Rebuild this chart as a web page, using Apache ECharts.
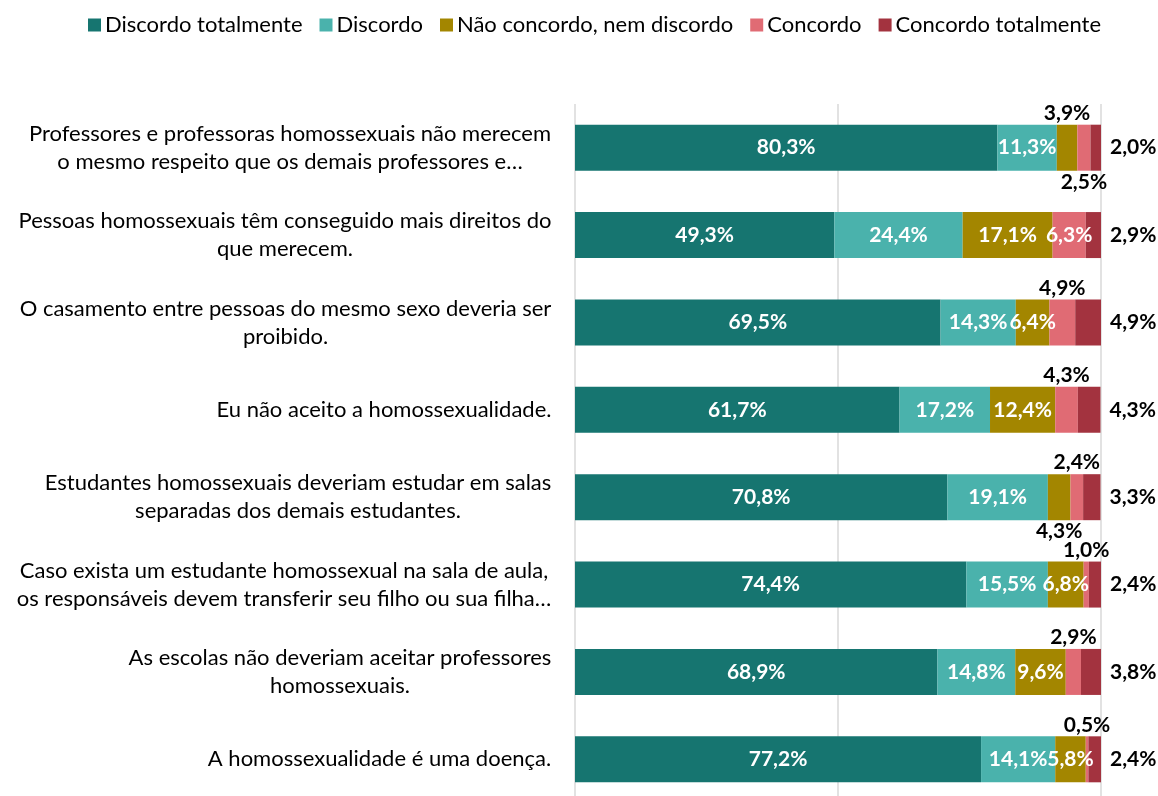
<!DOCTYPE html>
<html>
<head>
<meta charset="utf-8">
<script src="https://cdn.jsdelivr.net/npm/echarts@6/dist/echarts.min.js"></script>
<style>html,body{margin:0;padding:0;background:#fff;overflow:hidden}#c{width:1158px;height:812px}</style>
</head>
<body>
<div id="c"></div>
<script>
const categories = [
  "Professores e professoras homossexuais não merecem\no mesmo respeito que os demais professores e…",
  "Pessoas homossexuais têm conseguido mais direitos do\nque merecem.",
  "O casamento entre pessoas do mesmo sexo deveria ser\nproibido.",
  "Eu não aceito a homossexualidade.",
  "Estudantes homossexuais deveriam estudar em salas\nseparadas dos demais estudantes.",
  "Caso exista um estudante homossexual na sala de aula,\nos responsáveis devem transferir seu filho ou sua filha…",
  "As escolas não deveriam aceitar professores\nhomossexuais.",
  "A homossexualidade é uma doença."
];
const seriesNames = ["Discordo totalmente", "Discordo", "Não concordo, nem discordo", "Concordo", "Concordo totalmente"];
const discordoTotalmente = [80.3, 49.3, 69.5, 61.7, 70.8, 74.4, 68.9, 77.2];
const discordo = [11.3, 24.4, 14.3, 17.2, 19.1, 15.5, 14.8, 14.1];
const neutro = [3.9, 17.1, 6.4, 12.4, 4.3, 6.8, 9.6, 5.8];
const concordo = [2.5, 6.3, 4.9, 4.3, 2.4, 1.0, 2.9, 0.5];
const concordoTotalmente = [2.0, 2.9, 4.9, 4.3, 3.3, 2.4, 3.8, 2.4];

const colors = ["#167570", "#4AB2AC", "#A38600", "#E06B74", "#A3333F"];
// label placement per series per row: in / top / bottom / right
const placement = [
  ["in","in","in","in","in","in","in","in"],
  ["in","in","in","in","in","in","in","in"],
  ["top","in","in","in","bottom","in","in","in"],
  ["bottom","in","top","top","top","top","top","top"],
  ["right","right","right","right","right","right","right","right"]
];
const allValues = [discordoTotalmente, discordo, neutro, concordo, concordoTotalmente];
const FONT = "Lato";
const CAT_SIZE = 22;
function fmt(v){ return v.toFixed(1).replace('.', ',') + '%'; }

// measure category lines to center them within their block
const ctx = document.createElement('canvas').getContext('2d');
ctx.font = CAT_SIZE + 'px ' + FONT;
const rich = {};
categories.forEach((c, i) => {
  const w = Math.max(...c.split('\n').map(l => ctx.measureText(l).width));
  rich['c' + i] = { width: Math.ceil(w) + 1, align: 'center', fontFamily: FONT, fontSize: CAT_SIZE, lineHeight: 28, color: '#000' };
});

const series = seriesNames.map((name, si) => ({
  name: name,
  type: 'bar',
  stack: 'total',
  barWidth: 46,
  itemStyle: { color: colors[si] },
  data: allValues[si].map((v, ri) => {
    const p = placement[si][ri];
    const lab = { show: true, fontFamily: FONT, fontWeight: 'bold', fontSize: 21,
                  formatter: () => fmt(v) };
    if (p === 'in') { lab.position = 'inside'; lab.color = '#fff'; }
    else if (p === 'top') { lab.position = 'top'; lab.color = '#000'; lab.distance = 1; }
    else if (p === 'bottom') { lab.position = 'bottom'; lab.color = '#000'; lab.distance = 1; }
    else { lab.position = 'right'; lab.color = '#000'; lab.distance = 9; }
    return { value: v, label: lab };
  })
}));

const chart = echarts.init(document.getElementById('c'), null, { renderer: 'canvas' });
chart.setOption({
  animation: false,
  color: colors,
  textStyle: { fontFamily: FONT },
  legend: {
    top: 9, left: 83,
    itemWidth: 13, itemHeight: 13, itemGap: 17,
    icon: 'rect',
    textStyle: { fontFamily: FONT, fontSize: 22, color: '#000', padding: [0,0,0,-1] },
    data: seriesNames
  },
  grid: { left: 575, right: 57, top: 104, height: 699, containLabel: false },
  xAxis: {
    type: 'value', min: 0, max: 100, interval: 50,
    axisLabel: { show: false }, axisLine: { show: false }, axisTick: { show: false },
    splitLine: { lineStyle: { color: '#d9d9d9', width: 1.5 } }
  },
  yAxis: {
    type: 'category', inverse: true, data: categories,
    axisLine: { show: false }, axisTick: { show: false },
    axisLabel: {
      fontFamily: FONT, fontSize: CAT_SIZE, color: '#000', margin: 23, lineHeight: 28, align: 'right',
      formatter: (val, idx) => val.split('\n').map(l => '{c' + idx + '|' + l + '}').join('\n'),
      rich: rich
    }
  },
  series: series
});
</script>
</body>
</html>
